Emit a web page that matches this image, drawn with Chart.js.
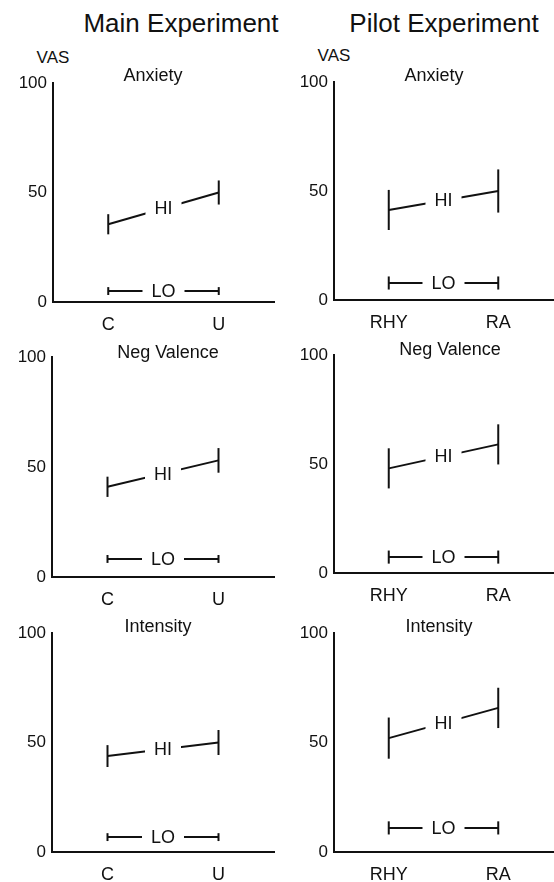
<!DOCTYPE html>
<html><head><meta charset="utf-8">
<script src="https://cdn.jsdelivr.net/npm/chart.js@4/dist/chart.umd.min.js"></script>
<style>
html,body{margin:0;padding:0;background:#fff;}
body{width:554px;height:882px;position:relative;overflow:hidden;font-family:"Liberation Sans",Arial,sans-serif;color:#111;}
canvas{position:absolute;}
.t{position:absolute;transform:translate(-50%,-50%);line-height:1;white-space:nowrap;}
</style></head><body>
<div class="t" style="left:181px;top:23px;font-size:26px">Main Experiment</div>
<div class="t" style="left:444px;top:23px;font-size:26px">Pilot Experiment</div>
<div class="t" style="left:53px;top:57px;font-size:17px">VAS</div>
<div class="t" style="left:334px;top:55px;font-size:17px">VAS</div>
<canvas id="c0"></canvas><canvas id="c1"></canvas>
<canvas id="c2"></canvas><canvas id="c3"></canvas>
<canvas id="c4"></canvas><canvas id="c5"></canvas>
<script>
// ---- data ----
const mainCategories = ['C', 'U'];
const pilotCategories = ['RHY', 'RA'];
const yTickValues = [0, 50, 100];
const measureNames = ['Anxiety', 'Neg Valence', 'Intensity'];
const groupLabels = ['HI', 'LO'];

const mainAnxietyHi = [35.5, 50];   const mainAnxietyHiErr = [4.6, 5.5];
const mainAnxietyLo = [5, 5];       const mainAnxietyLoErr = [1.8, 1.8];
const pilotAnxietyHi = [41.3, 50];  const pilotAnxietyHiErr = [9.2, 9.9];
const pilotAnxietyLo = [7.8, 7.8];  const pilotAnxietyLoErr = [3, 3];

const mainValenceHi = [41, 53];     const mainValenceHiErr = [4.6, 5.6];
const mainValenceLo = [8.2, 8.2];   const mainValenceLoErr = [1.8, 1.8];
const pilotValenceHi = [48, 59];    const pilotValenceHiErr = [9.2, 9.2];
const pilotValenceLo = [7.3, 7.3];  const pilotValenceLoErr = [3, 3];

const mainIntensityHi = [43.8, 50]; const mainIntensityHiErr = [5, 5.7];
const mainIntensityLo = [6.8, 6.8]; const mainIntensityLoErr = [1.8, 1.8];
const pilotIntensityHi = [52, 65.8]; const pilotIntensityHiErr = [9.4, 9.2];
const pilotIntensityLo = [11, 11];  const pilotIntensityLoErr = [3, 3];

// ---- layout ----
const FF = '"Liberation Sans", Arial, sans-serif';
const INK = '#111';
const panels = [
  {id:'c0', cats:mainCategories, title:measureNames[0], hi:mainAnxietyHi, hiErr:mainAnxietyHiErr, lo:mainAnxietyLo, loErr:mainAnxietyLoErr,
   left:0, top:60, w:277, h:290, yw:53, pr:3, pt:23, xh:48, tx:153, ty:76},
  {id:'c1', cats:pilotCategories, title:measureNames[0], hi:pilotAnxietyHi, hiErr:pilotAnxietyHiErr, lo:pilotAnxietyLo, loErr:pilotAnxietyLoErr,
   left:277, top:60, w:277, h:290, yw:57, pr:1, pt:22, xh:50, tx:434, ty:76},
  {id:'c2', cats:mainCategories, title:measureNames[1], hi:mainValenceHi, hiErr:mainValenceHiErr, lo:mainValenceLo, loErr:mainValenceLoErr,
   left:0, top:335, w:277, h:290, yw:52, pr:3, pt:22, xh:48, tx:168, ty:353},
  {id:'c3', cats:pilotCategories, title:measureNames[1], hi:pilotValenceHi, hiErr:pilotValenceHiErr, lo:pilotValenceLo, loErr:pilotValenceLoErr,
   left:277, top:335, w:277, h:290, yw:57, pr:1, pt:20, xh:52, tx:450, ty:350},
  {id:'c4', cats:mainCategories, title:measureNames[2], hi:mainIntensityHi, hiErr:mainIntensityHiErr, lo:mainIntensityLo, loErr:mainIntensityLoErr,
   left:0, top:610, w:277, h:272, yw:52, pr:3, pt:23, xh:30, tx:158, ty:627},
  {id:'c5', cats:pilotCategories, title:measureNames[2], hi:pilotIntensityHi, hiErr:pilotIntensityHiErr, lo:pilotIntensityLo, loErr:pilotIntensityLoErr,
   left:277, top:610, w:277, h:272, yw:57, pr:1, pt:23, xh:30, tx:439, ty:627}
];

function makeChart(p){
  const cv = document.getElementById(p.id);
  cv.style.left = p.left + 'px'; cv.style.top = p.top + 'px';
  cv.width = p.w; cv.height = p.h;
  cv.style.width = p.w + 'px'; cv.style.height = p.h + 'px';
  const errs = [p.hiErr, p.loErr];
  const GAP = 9;
  const hiloPlugin = {
    id: 'hilo',
    beforeDatasetsDraw(chart){
      const ctx = chart.ctx;
      ctx.save();
      ctx.font = '18px ' + FF;
      ctx.beginPath();
      ctx.rect(0, 0, chart.width, chart.height);
      chart.data.datasets.forEach((ds, i) => {
        const pts = chart.getDatasetMeta(i).data;
        const mx = (pts[0].x + pts[1].x) / 2, my = (pts[0].y + pts[1].y) / 2;
        const w = ctx.measureText(ds.label).width + 2 * GAP;
        ctx.rect(mx - w / 2, my - 12, w, 24);
      });
      ctx.clip('evenodd');
    },
    afterDatasetsDraw(chart){
      const ctx = chart.ctx;
      ctx.restore();
      const ys = chart.scales.y;
      ctx.save();
      ctx.strokeStyle = INK; ctx.lineWidth = 2; ctx.lineCap = 'butt';
      chart.data.datasets.forEach((ds, i) => {
        const pts = chart.getDatasetMeta(i).data;
        pts.forEach((pt, j) => {
          const v = ds.data[j], e = errs[i][j];
          ctx.beginPath();
          ctx.moveTo(pt.x, ys.getPixelForValue(v - e));
          ctx.lineTo(pt.x, ys.getPixelForValue(v + e));
          ctx.stroke();
        });
        const mx = (pts[0].x + pts[1].x) / 2, my = (pts[0].y + pts[1].y) / 2;
        ctx.fillStyle = INK;
        ctx.font = '18px ' + FF;
        ctx.textAlign = 'center'; ctx.textBaseline = 'middle';
        ctx.fillText(ds.label, mx, my + 1);
      });
      ctx.font = '18px ' + FF;
      ctx.textAlign = 'center'; ctx.textBaseline = 'middle';
      ctx.fillText(p.title, p.tx - p.left, p.ty - p.top);
      ctx.restore();
    }
  };
  new Chart(cv, {
    type: 'line',
    data: {
      labels: p.cats,
      datasets: [
        {label: groupLabels[0], data: p.hi, borderColor: INK, borderWidth: 2, pointRadius: 0, tension: 0, fill: false},
        {label: groupLabels[1], data: p.lo, borderColor: INK, borderWidth: 2, pointRadius: 0, tension: 0, fill: false}
      ]
    },
    options: {
      responsive: false, animation: false, devicePixelRatio: 1,
      layout: {padding: {top: p.pt, right: p.pr, left: 0, bottom: 0}},
      plugins: {legend: {display: false}, tooltip: {enabled: false}, title: {display: false}},
      scales: {
        x: {
          type: 'category', offset: true,
          grid: {display: false, drawTicks: false},
          border: {color: INK, width: 2},
          ticks: {color: INK, font: {family: FF, size: 18}, padding: 12},
          afterFit: s => { s.height = p.xh; }
        },
        y: {
          min: 0, max: 100,
          afterBuildTicks: s => { s.ticks = yTickValues.map(v => ({value: v})); },
          grid: {display: false, drawTicks: false},
          border: {color: INK, width: 2},
          ticks: {color: INK, font: {family: FF, size: 17}, padding: 6},
          afterFit: s => { s.width = p.yw; }
        }
      }
    },
    plugins: [hiloPlugin]
  });
}
panels.forEach(makeChart);
</script>
</body></html>
